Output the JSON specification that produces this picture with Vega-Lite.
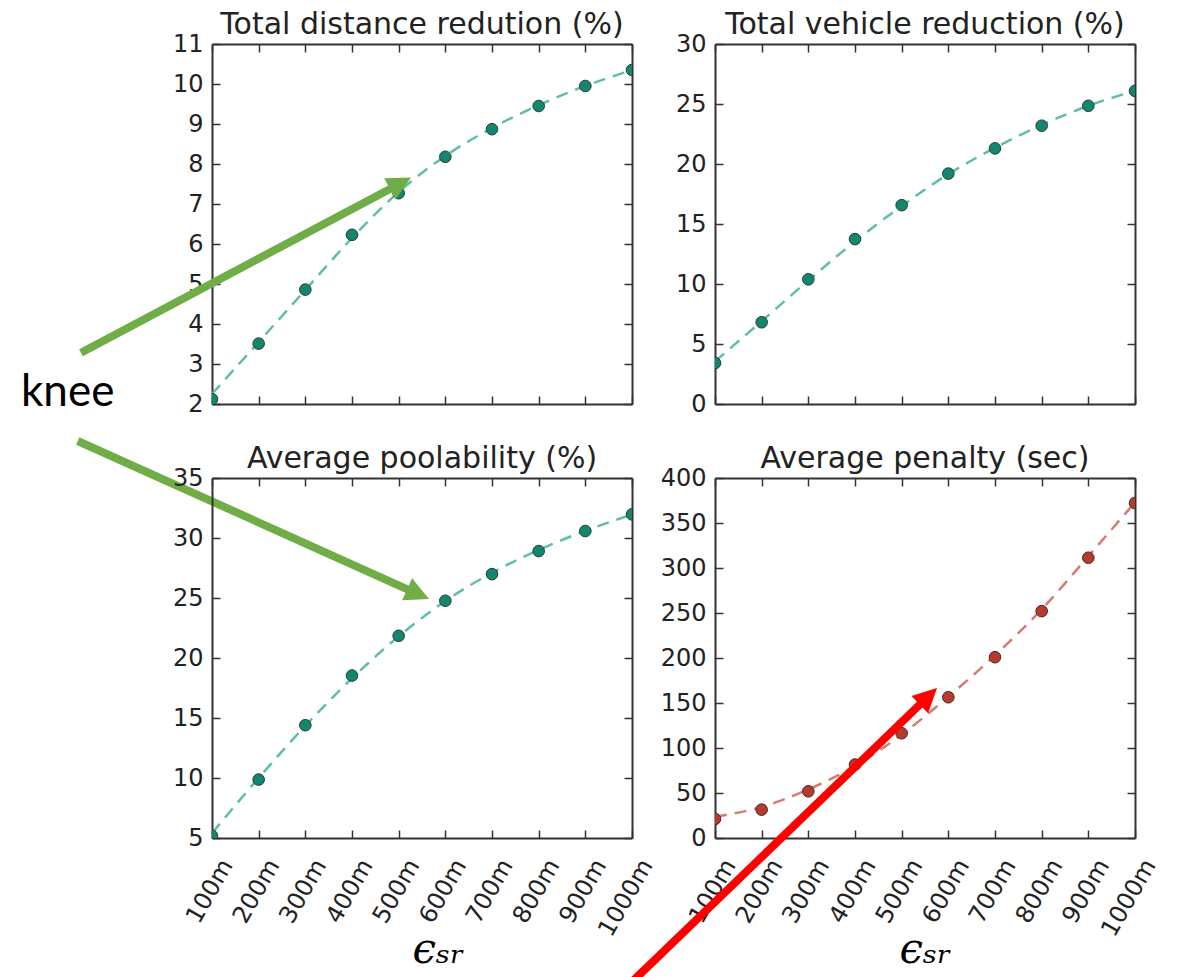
{
  "$schema": "https://vega.github.io/schema/vega-lite/v6.json",
  "autosize": {"type": "pad"},
  "padding": {"left": 20, "top": 10, "right": 0, "bottom": 0},
  "background": "white",
  "bounds": "flush",
  "columns": 2,
  "spacing": {"row": 74, "column": 83},
  "datasets": {
    "tl_obs": [
      {"eps": 100, "value": 2.12}, {"eps": 200, "value": 3.51}, {"eps": 300, "value": 4.86}, {"eps": 400, "value": 6.23}, {"eps": 500, "value": 7.27},
      {"eps": 600, "value": 8.18}, {"eps": 700, "value": 8.87}, {"eps": 800, "value": 9.45}, {"eps": 900, "value": 9.95}, {"eps": 1000, "value": 10.35}
    ],
    "tl_fit": [
      {"eps": 100, "value": 2.25}, {"eps": 200, "value": 3.55}, {"eps": 300, "value": 4.85}, {"eps": 400, "value": 6.15}, {"eps": 500, "value": 7.3},
      {"eps": 600, "value": 8.2}, {"eps": 700, "value": 8.9}, {"eps": 800, "value": 9.47}, {"eps": 900, "value": 9.95}, {"eps": 1000, "value": 10.35}
    ],
    "tr_obs": [
      {"eps": 100, "value": 3.41}, {"eps": 200, "value": 6.81}, {"eps": 300, "value": 10.39}, {"eps": 400, "value": 13.74}, {"eps": 500, "value": 16.57},
      {"eps": 600, "value": 19.2}, {"eps": 700, "value": 21.3}, {"eps": 800, "value": 23.19}, {"eps": 900, "value": 24.85}, {"eps": 1000, "value": 26.09}
    ],
    "tr_fit": [
      {"eps": 100, "value": 3.55}, {"eps": 200, "value": 6.9}, {"eps": 300, "value": 10.3}, {"eps": 400, "value": 13.55}, {"eps": 500, "value": 16.5},
      {"eps": 600, "value": 19.15}, {"eps": 700, "value": 21.35}, {"eps": 800, "value": 23.25}, {"eps": 900, "value": 24.85}, {"eps": 1000, "value": 26.1}
    ],
    "bl_obs": [
      {"eps": 100, "value": 5.19}, {"eps": 200, "value": 9.87}, {"eps": 300, "value": 14.4}, {"eps": 400, "value": 18.54}, {"eps": 500, "value": 21.85},
      {"eps": 600, "value": 24.77}, {"eps": 700, "value": 26.99}, {"eps": 800, "value": 28.91}, {"eps": 900, "value": 30.58}, {"eps": 1000, "value": 31.97}
    ],
    "bl_fit": [
      {"eps": 100, "value": 5.4}, {"eps": 200, "value": 10.0}, {"eps": 300, "value": 14.35}, {"eps": 400, "value": 18.3}, {"eps": 500, "value": 21.8},
      {"eps": 600, "value": 24.75}, {"eps": 700, "value": 27.1}, {"eps": 800, "value": 29.0}, {"eps": 900, "value": 30.6}, {"eps": 1000, "value": 31.95}
    ],
    "br_obs": [
      {"eps": 100, "value": 21.1}, {"eps": 200, "value": 31.5}, {"eps": 300, "value": 51.9}, {"eps": 400, "value": 81.6}, {"eps": 500, "value": 116.4},
      {"eps": 600, "value": 156.4}, {"eps": 700, "value": 200.9}, {"eps": 800, "value": 252.1}, {"eps": 900, "value": 311.4}, {"eps": 1000, "value": 372.2}
    ],
    "br_fit": [
      {"eps": 100, "value": 23.5}, {"eps": 200, "value": 34.5}, {"eps": 300, "value": 54}, {"eps": 400, "value": 80}, {"eps": 500, "value": 115},
      {"eps": 600, "value": 157}, {"eps": 700, "value": 203}, {"eps": 800, "value": 254}, {"eps": 900, "value": 313}, {"eps": 1000, "value": 373}
    ],
    "knee": [{"x": -309.3, "y": 1.95, "label": "knee"}],
    "arrows_green": [
      {"x": -180.7, "y": 3.28, "x2": 488.5, "y2": 7.42, "hx": 503.7, "hy": 7.52, "dir": 62.06},
      {"x": -187.8, "y": 1.075, "x2": 526.0, "y2": -2.67, "hx": 541.6, "hy": -2.7525, "dir": 114.2}
    ],
    "arrow_br": [{"x": -98.2, "y": -170, "x2": 544.9, "y2": 151.2, "hx": 557.3, "hy": 157.4}]
  },
  "concat": [
    {
      "width": 420, "height": 360,
      "title": "Total distance redution (%)",
      "resolve": {"axis": {"x": "independent", "y": "independent"}},
      "layer": [
        {
          "data": {"name": "tl_fit"},
          "mark": {"type": "line", "color": "#5fbfa0", "strokeWidth": 2.5, "strokeDash": [12, 8], "interpolate": "monotone", "clip": true},
          "encoding": {
            "x": {"field": "eps", "type": "quantitative", "scale": {"domain": [100, 1000], "nice": false, "zero": false},
                  "axis": {"orient": "bottom", "labels": false, "title": null, "values": [100, 200, 300, 400, 500, 600, 700, 800, 900, 1000]}},
            "y": {"field": "value", "type": "quantitative", "scale": {"domain": [2, 11], "nice": false, "zero": false},
                  "axis": {"orient": "left", "title": null, "values": [2, 3, 4, 5, 6, 7, 8, 9, 10, 11]}}
          }
        },
        {
          "data": {"name": "tl_obs"},
          "mark": {"type": "circle", "color": "#13876e", "stroke": "#2b3a36", "strokeWidth": 1, "size": 135, "opacity": 1, "clip": true},
          "encoding": {
            "x": {"field": "eps", "type": "quantitative", "scale": {"domain": [100, 1000], "nice": false, "zero": false},
                  "axis": {"orient": "top", "labels": false, "title": null, "values": [100, 200, 300, 400, 500, 600, 700, 800, 900, 1000]}},
            "y": {"field": "value", "type": "quantitative", "scale": {"domain": [2, 11], "nice": false, "zero": false},
                  "axis": {"orient": "right", "labels": false, "title": null, "values": [2, 3, 4, 5, 6, 7, 8, 9, 10, 11]}}
          }
        },
        {
          "data": {"name": "arrows_green"},
          "mark": {"type": "rule", "color": "#70ad47", "strokeWidth": 8, "strokeCap": "butt", "clip": false},
          "encoding": {
            "x": {"field": "x", "type": "quantitative", "scale": {"domain": [100, 1000], "nice": false, "zero": false}, "axis": null},
            "y": {"field": "y", "type": "quantitative", "scale": {"domain": [2, 11], "nice": false, "zero": false}, "axis": null},
            "x2": {"field": "x2"},
            "y2": {"field": "y2"}
          }
        },
        {
          "data": {"name": "arrows_green"},
          "mark": {"type": "point", "shape": "M0,-1L1,1L-1,1Z", "filled": true, "color": "#70ad47", "opacity": 1, "size": 576, "strokeWidth": 0, "clip": false},
          "encoding": {
            "x": {"field": "hx", "type": "quantitative", "scale": {"domain": [100, 1000], "nice": false, "zero": false}, "axis": null},
            "y": {"field": "hy", "type": "quantitative", "scale": {"domain": [2, 11], "nice": false, "zero": false}, "axis": null},
            "angle": {"field": "dir", "type": "quantitative", "scale": null}
          }
        },
        {
          "data": {"name": "knee"},
          "mark": {"type": "text", "font": "Lato", "fontSize": 44, "align": "left", "baseline": "alphabetic", "color": "#000000", "clip": false},
          "encoding": {
            "x": {"field": "x", "type": "quantitative", "scale": {"domain": [100, 1000], "nice": false, "zero": false}, "axis": null},
            "y": {"field": "y", "type": "quantitative", "scale": {"domain": [2, 11], "nice": false, "zero": false}, "axis": null},
            "text": {"field": "label"}
          }
        }
      ]
    },
    {
      "width": 420, "height": 360,
      "title": "Total vehicle reduction (%)",
      "resolve": {"axis": {"x": "independent", "y": "independent"}},
      "layer": [
        {
          "data": {"name": "tr_fit"},
          "mark": {"type": "line", "color": "#5fbfa0", "strokeWidth": 2.5, "strokeDash": [12, 8], "interpolate": "monotone", "clip": true},
          "encoding": {
            "x": {"field": "eps", "type": "quantitative", "scale": {"domain": [100, 1000], "nice": false, "zero": false},
                  "axis": {"orient": "bottom", "labels": false, "title": null, "values": [100, 200, 300, 400, 500, 600, 700, 800, 900, 1000]}},
            "y": {"field": "value", "type": "quantitative", "scale": {"domain": [0, 30], "nice": false, "zero": false},
                  "axis": {"orient": "left", "title": null, "values": [0, 5, 10, 15, 20, 25, 30]}}
          }
        },
        {
          "data": {"name": "tr_obs"},
          "mark": {"type": "circle", "color": "#13876e", "stroke": "#2b3a36", "strokeWidth": 1, "size": 135, "opacity": 1, "clip": true},
          "encoding": {
            "x": {"field": "eps", "type": "quantitative", "scale": {"domain": [100, 1000], "nice": false, "zero": false},
                  "axis": {"orient": "top", "labels": false, "title": null, "values": [100, 200, 300, 400, 500, 600, 700, 800, 900, 1000]}},
            "y": {"field": "value", "type": "quantitative", "scale": {"domain": [0, 30], "nice": false, "zero": false},
                  "axis": {"orient": "right", "labels": false, "title": null, "values": [0, 5, 10, 15, 20, 25, 30]}}
          }
        }
      ]
    },
    {
      "width": 420, "height": 360,
      "title": "Average poolability (%)",
      "resolve": {"axis": {"x": "independent", "y": "independent"}},
      "layer": [
        {
          "data": {"name": "bl_fit"},
          "mark": {"type": "line", "color": "#5fbfa0", "strokeWidth": 2.5, "strokeDash": [12, 8], "interpolate": "monotone", "clip": true},
          "encoding": {
            "x": {"field": "eps", "type": "quantitative", "scale": {"domain": [100, 1000], "nice": false, "zero": false},
                  "axis": {"orient": "bottom", "title": "ϵₛᵣ", "titleX": 226, "values": [100, 200, 300, 400, 500, 600, 700, 800, 900, 1000],
                           "labelExpr": "datum.value + 'm'", "labelAngle": -60, "labelAlign": "right", "labelBaseline": "middle",
                           "labelPadding": 31, "labelOffset": 15, "labelOverlap": false, "labelFlush": false, "labelBound": false}},
            "y": {"field": "value", "type": "quantitative", "scale": {"domain": [5, 35], "nice": false, "zero": false},
                  "axis": {"orient": "left", "title": null, "values": [5, 10, 15, 20, 25, 30, 35]}}
          }
        },
        {
          "data": {"name": "bl_obs"},
          "mark": {"type": "circle", "color": "#13876e", "stroke": "#2b3a36", "strokeWidth": 1, "size": 135, "opacity": 1, "clip": true},
          "encoding": {
            "x": {"field": "eps", "type": "quantitative", "scale": {"domain": [100, 1000], "nice": false, "zero": false},
                  "axis": {"orient": "top", "labels": false, "title": null, "values": [100, 200, 300, 400, 500, 600, 700, 800, 900, 1000]}},
            "y": {"field": "value", "type": "quantitative", "scale": {"domain": [5, 35], "nice": false, "zero": false},
                  "axis": {"orient": "right", "labels": false, "title": null, "values": [5, 10, 15, 20, 25, 30, 35]}}
          }
        }
      ]
    },
    {
      "width": 420, "height": 360,
      "title": "Average penalty (sec)",
      "resolve": {"axis": {"x": "independent", "y": "independent"}},
      "layer": [
        {
          "data": {"name": "br_fit"},
          "mark": {"type": "line", "color": "#d57b70", "strokeWidth": 2.5, "strokeDash": [12, 8], "interpolate": "monotone", "clip": true},
          "encoding": {
            "x": {"field": "eps", "type": "quantitative", "scale": {"domain": [100, 1000], "nice": false, "zero": false},
                  "axis": {"orient": "bottom", "title": "ϵₛᵣ", "values": [100, 200, 300, 400, 500, 600, 700, 800, 900, 1000],
                           "labelExpr": "datum.value + 'm'", "labelAngle": -60, "labelAlign": "right", "labelBaseline": "middle",
                           "labelPadding": 31, "labelOffset": 15, "labelOverlap": false, "labelFlush": false, "labelBound": false}},
            "y": {"field": "value", "type": "quantitative", "scale": {"domain": [0, 400], "nice": false, "zero": false},
                  "axis": {"orient": "left", "title": null, "values": [0, 50, 100, 150, 200, 250, 300, 350, 400]}}
          }
        },
        {
          "data": {"name": "br_obs"},
          "mark": {"type": "circle", "color": "#b63a2d", "stroke": "#4a2622", "strokeWidth": 1, "size": 135, "opacity": 1, "clip": true},
          "encoding": {
            "x": {"field": "eps", "type": "quantitative", "scale": {"domain": [100, 1000], "nice": false, "zero": false},
                  "axis": {"orient": "top", "labels": false, "title": null, "values": [100, 200, 300, 400, 500, 600, 700, 800, 900, 1000]}},
            "y": {"field": "value", "type": "quantitative", "scale": {"domain": [0, 400], "nice": false, "zero": false},
                  "axis": {"orient": "right", "labels": false, "title": null, "values": [0, 50, 100, 150, 200, 250, 300, 350, 400]}}
          }
        },
        {
          "data": {"name": "arrow_br"},
          "mark": {"type": "rule", "color": "#ff0000", "strokeWidth": 8, "strokeCap": "butt", "clip": false},
          "encoding": {
            "x": {"field": "x", "type": "quantitative", "scale": {"domain": [100, 1000], "nice": false, "zero": false}, "axis": null},
            "y": {"field": "y", "type": "quantitative", "scale": {"domain": [0, 400], "nice": false, "zero": false}, "axis": null},
            "x2": {"field": "x2"},
            "y2": {"field": "y2"}
          }
        },
        {
          "data": {"name": "arrow_br"},
          "mark": {"type": "point", "shape": "M0,-1L1,1L-1,1Z", "filled": true, "color": "#ff0000", "opacity": 1, "size": 576, "angle": 46.07, "strokeWidth": 0, "clip": false},
          "encoding": {
            "x": {"field": "hx", "type": "quantitative", "scale": {"domain": [100, 1000], "nice": false, "zero": false}, "axis": null},
            "y": {"field": "hy", "type": "quantitative", "scale": {"domain": [0, 400], "nice": false, "zero": false}, "axis": null}
          }
        }
      ]
    }
  ],
  "config": {
    "view": {"stroke": null},
    "axis": {
      "grid": false,
      "zindex": 1,
      "domainColor": "#333333",
      "domainWidth": 2,
      "tickColor": "#333333",
      "tickWidth": 1.5,
      "tickSize": -8,
      "labelFont": "DejaVu Sans",
      "labelFontSize": 24,
      "labelColor": "#222222",
      "labelPadding": 17,
      "titleFont": "DejaVu Serif",
      "titleFontSize": 42,
      "titleFontStyle": "italic",
      "titleFontWeight": "normal",
      "titleColor": "#000000",
      "titlePadding": -11
    },
    "title": {
      "font": "DejaVu Sans",
      "fontSize": 30,
      "fontWeight": "normal",
      "color": "#222222",
      "anchor": "middle",
      "frame": "group",
      "baseline": "alphabetic",
      "offset": -8
    }
  }
}
